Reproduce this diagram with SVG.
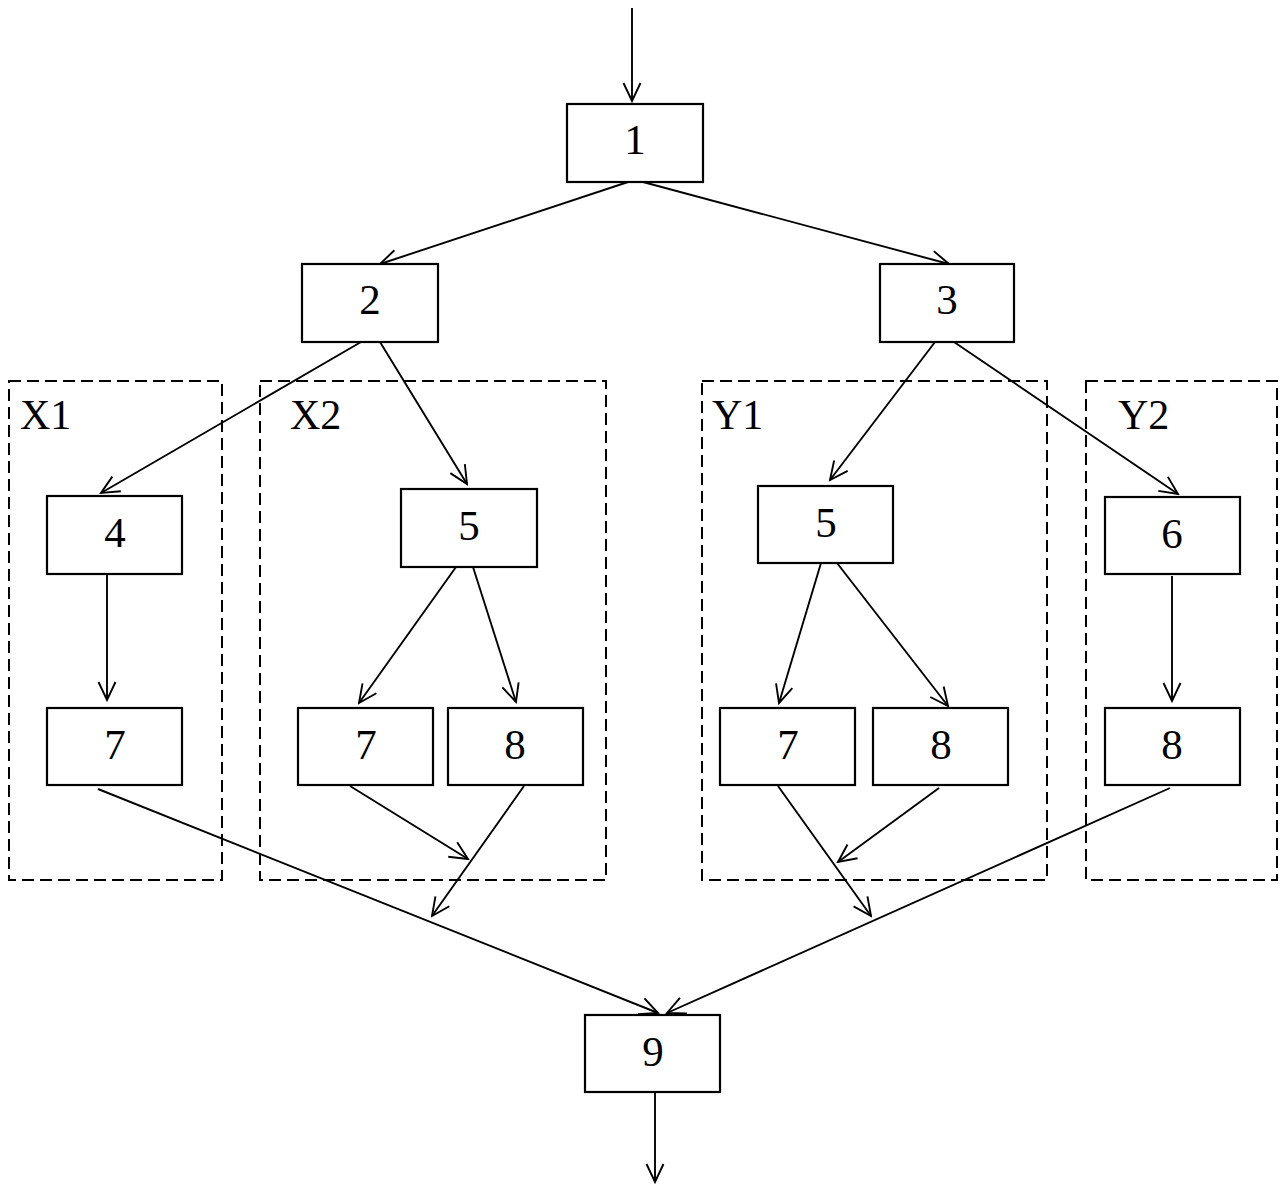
<svg xmlns="http://www.w3.org/2000/svg" width="1283" height="1184" viewBox="0 0 1283 1184">
<style>
.box{fill:#fff;stroke:#000;stroke-width:2.2}
.grp{fill:none;stroke:#000;stroke-width:2;stroke-dasharray:12,6}
.lbl{font-family:"Liberation Serif","Times New Roman",serif;font-size:42px;fill:#000}
.num{font-family:"Liberation Serif","Times New Roman",serif;font-size:43px;fill:#000;text-anchor:middle}
.edge{fill:none;stroke:#000;stroke-width:1.9;marker-end:url(#arr)}
</style>
<defs>
<marker id="arr" markerUnits="userSpaceOnUse" viewBox="-20 -10 22 20" refX="0" refY="0" markerWidth="22" markerHeight="20" orient="auto">
<path d="M-18,-8.5 L0,0 L-18,8.5" fill="none" stroke="#000" stroke-width="1.9"/>
</marker>
</defs>
<rect width="1283" height="1184" fill="#fff"/>
<g id="groups">
<g id="X1"><rect class="grp" x="9" y="381" width="213" height="499"/><text class="lbl" x="20" y="429">X1</text></g>
<g id="X2"><rect class="grp" x="260" y="381" width="346" height="499"/><text class="lbl" x="290" y="429">X2</text></g>
<g id="Y1"><rect class="grp" x="702" y="381" width="345" height="499"/><text class="lbl" x="712" y="429">Y1</text></g>
<g id="Y2"><rect class="grp" x="1086" y="381" width="191" height="499"/><text class="lbl" x="1118" y="429">Y2</text></g>
</g>
<g id="connectors">
<line class="edge" x1="632" y1="8" x2="632" y2="101"/>
<line class="edge" x1="628" y1="182" x2="380" y2="264"/>
<line class="edge" x1="643" y1="182" x2="949" y2="264"/>
<line class="edge" x1="361" y1="342" x2="101" y2="493"/>
<line class="edge" x1="380" y1="342" x2="467" y2="484"/>
<line class="edge" x1="935" y1="342" x2="830" y2="480"/>
<line class="edge" x1="954" y1="342" x2="1178" y2="494"/>
<line class="edge" x1="107" y1="574" x2="107" y2="700"/>
<line class="edge" x1="456" y1="567" x2="359" y2="703"/>
<line class="edge" x1="473" y1="567" x2="516" y2="702"/>
<line class="edge" x1="821" y1="563" x2="779" y2="703"/>
<line class="edge" x1="837" y1="563" x2="948" y2="706"/>
<line class="edge" x1="1172" y1="576" x2="1172" y2="701"/>
<line class="edge" x1="98" y1="789" x2="658" y2="1013"/>
<line class="edge" x1="350" y1="786" x2="468" y2="859"/>
<line class="edge" x1="524" y1="786" x2="432" y2="916"/>
<line class="edge" x1="778" y1="786" x2="871" y2="916"/>
<line class="edge" x1="939" y1="788" x2="838" y2="862"/>
<line class="edge" x1="1170" y1="788" x2="667" y2="1013"/>
<line class="edge" x1="655" y1="1093" x2="655" y2="1182"/>
</g>
<g id="n1"><rect class="box" x="567" y="104" width="136" height="78"/><text class="num" x="635" y="154">1</text></g>
<g id="n2"><rect class="box" x="302" y="264" width="136" height="78"/><text class="num" x="370" y="314">2</text></g>
<g id="n3"><rect class="box" x="880" y="264" width="134" height="78"/><text class="num" x="947" y="314">3</text></g>
<g id="n4"><rect class="box" x="47" y="496" width="135" height="78"/><text class="num" x="115" y="547">4</text></g>
<g id="n7a"><rect class="box" x="47" y="708" width="135" height="77"/><text class="num" x="115" y="759">7</text></g>
<g id="n5a"><rect class="box" x="401" y="489" width="136" height="78"/><text class="num" x="469" y="540">5</text></g>
<g id="n7b"><rect class="box" x="298" y="708" width="135" height="77"/><text class="num" x="366" y="759">7</text></g>
<g id="n8b"><rect class="box" x="448" y="708" width="135" height="77"/><text class="num" x="515" y="759">8</text></g>
<g id="n5b"><rect class="box" x="758" y="486" width="135" height="77"/><text class="num" x="826" y="537">5</text></g>
<g id="n7c"><rect class="box" x="720" y="708" width="135" height="77"/><text class="num" x="788" y="759">7</text></g>
<g id="n8c"><rect class="box" x="873" y="708" width="135" height="77"/><text class="num" x="941" y="759">8</text></g>
<g id="n6"><rect class="box" x="1105" y="497" width="135" height="77"/><text class="num" x="1172" y="548">6</text></g>
<g id="n8d"><rect class="box" x="1105" y="708" width="135" height="77"/><text class="num" x="1172" y="759">8</text></g>
<g id="n9"><rect class="box" x="585" y="1015" width="135" height="77"/><text class="num" x="653" y="1066">9</text></g>
</svg>
